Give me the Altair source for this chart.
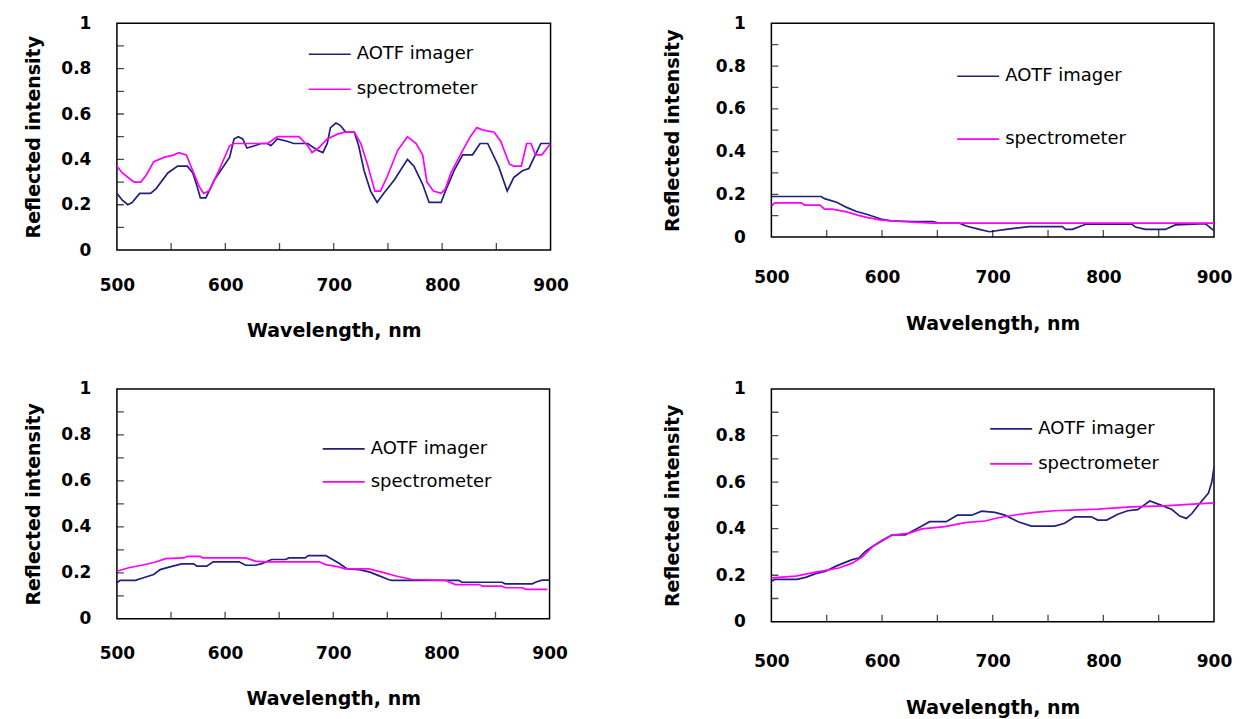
import altair as alt
import pandas as pd

NAVY = "#20207f"
MAGENTA = "#ff00ff"
SERIES = ["AOTF imager", "spectrometer"]

x_label_values = [500, 600, 700, 800, 900]
y_label_values = [0, 0.2, 0.4, 0.6, 0.8, 1]
x_minor_ticks = [550, 600, 650, 700, 750, 800, 850]
y_minor_ticks = [0.1, 0.2, 0.3, 0.4, 0.5, 0.6, 0.7, 0.8, 0.9]

# Panel 1 (top left)
p1_aotf_nm = [500, 505, 510, 514, 521, 531, 536, 547, 556, 565, 570, 574, 577, 582, 590, 604, 608, 612, 616, 620,
              627, 633, 639, 642, 648, 657, 663, 676, 685, 690, 694, 697, 702, 706, 711, 719, 723, 728, 734, 740,
              746, 756, 768, 774, 782, 788, 792, 799, 803, 811, 819, 828, 835, 842, 852, 860, 866, 874, 880, 886,
              891, 900]
p1_aotf_val = [0.25, 0.22, 0.20, 0.21, 0.25, 0.25, 0.27, 0.34, 0.37, 0.37, 0.34, 0.28, 0.23, 0.23, 0.31, 0.41, 0.49,
               0.50, 0.49, 0.45, 0.46, 0.47, 0.47, 0.46, 0.49, 0.48, 0.47, 0.47, 0.44, 0.43, 0.47, 0.54, 0.56, 0.55,
               0.52, 0.52, 0.46, 0.35, 0.26, 0.21, 0.25, 0.31, 0.40, 0.37, 0.29, 0.21, 0.21, 0.21, 0.26, 0.35, 0.42,
               0.42, 0.47, 0.47, 0.37, 0.26, 0.32, 0.35, 0.36, 0.42, 0.47, 0.47]
p1_spec_nm = [500, 505, 513, 516, 522, 527, 534, 544, 553, 557, 564, 570, 576, 580, 585, 593, 604, 608, 620, 639,
              648, 668, 676, 680, 686, 694, 703, 710, 719, 725, 731, 738, 743, 749, 759, 768, 776, 782, 786, 792,
              799, 803, 808, 819, 826, 832, 837, 848, 854, 862, 866, 873, 878, 882, 886, 892, 900]
p1_spec_val = [0.37, 0.34, 0.31, 0.30, 0.30, 0.33, 0.39, 0.41, 0.42, 0.43, 0.42, 0.35, 0.28, 0.25, 0.26, 0.34, 0.46,
               0.47, 0.47, 0.47, 0.50, 0.50, 0.46, 0.43, 0.45, 0.49, 0.51, 0.52, 0.52, 0.47, 0.38, 0.26, 0.26, 0.32,
               0.44, 0.50, 0.47, 0.42, 0.30, 0.26, 0.25, 0.27, 0.34, 0.44, 0.50, 0.54, 0.53, 0.52, 0.48, 0.38, 0.37,
               0.37, 0.47, 0.47, 0.42, 0.42, 0.47]

# Panel 2 (top right)
p2_aotf_nm = [500, 545, 548, 559, 568, 577, 586, 595, 599, 608, 628, 646, 652, 670, 676, 688, 697, 712, 733, 763,
              766, 772, 784, 826, 829, 838, 856, 865, 892, 900]
p2_aotf_val = [0.19, 0.19, 0.18, 0.163, 0.139, 0.12, 0.107, 0.092, 0.084, 0.076, 0.073, 0.073, 0.065, 0.065, 0.052,
               0.036, 0.025, 0.036, 0.049, 0.049, 0.036, 0.036, 0.06, 0.06, 0.047, 0.036, 0.036, 0.057, 0.063, 0.03]
p2_spec_nm = [500, 503, 527, 530, 544, 548, 555, 568, 578, 586, 598, 616, 646, 700, 800, 900]
p2_spec_val = [0.145, 0.16, 0.16, 0.15, 0.15, 0.131, 0.131, 0.118, 0.103, 0.092, 0.081, 0.073, 0.065, 0.065, 0.065,
               0.065]

# Panel 3 (bottom left)
p3_aotf_nm = [500, 503, 517, 526, 534, 540, 549, 560, 571, 574, 583, 589, 613, 619, 628, 634, 643, 656, 659, 674,
              677, 693, 697, 705, 713, 724, 734, 742, 751, 754, 774, 804, 816, 819, 856, 859, 884, 887, 893, 900]
p3_aotf_val = [0.157, 0.167, 0.167, 0.181, 0.193, 0.214, 0.226, 0.239, 0.239, 0.229, 0.229, 0.248, 0.248, 0.233,
               0.233, 0.24, 0.258, 0.258, 0.265, 0.265, 0.275, 0.275, 0.265, 0.243, 0.217, 0.214, 0.203, 0.188,
               0.171, 0.167, 0.167, 0.167, 0.167, 0.159, 0.159, 0.152, 0.152, 0.159, 0.168, 0.168]
p3_spec_nm = [500, 511, 523, 535, 545, 562, 565, 577, 579, 619, 628, 637, 687, 693, 705, 711, 733, 745, 758, 773,
              804, 813, 835, 838, 856, 859, 875, 878, 898]
p3_spec_val = [0.207, 0.222, 0.233, 0.246, 0.262, 0.265, 0.272, 0.272, 0.265, 0.265, 0.251, 0.248, 0.248, 0.236,
               0.226, 0.217, 0.217, 0.203, 0.186, 0.171, 0.167, 0.149, 0.149, 0.142, 0.142, 0.135, 0.135, 0.128,
               0.128]

# Panel 4 (bottom right)
p4_aotf_nm = [500, 503, 523, 531, 540, 549, 558, 565, 573, 579, 585, 591, 600, 609, 621, 628, 636, 643, 658, 668,
              681, 690, 702, 711, 723, 735, 756, 765, 774, 789, 795, 803, 813, 822, 831, 842, 852, 862, 869, 875,
              880, 887, 895, 898, 900]
p4_aotf_val = [0.174, 0.182, 0.182, 0.191, 0.207, 0.217, 0.238, 0.252, 0.267, 0.274, 0.302, 0.323, 0.349, 0.373,
               0.373, 0.391, 0.411, 0.43, 0.43, 0.458, 0.458, 0.475, 0.47, 0.458, 0.43, 0.411, 0.411, 0.423, 0.451,
               0.451, 0.437, 0.437, 0.462, 0.477, 0.482, 0.519, 0.501, 0.482, 0.454, 0.444, 0.465, 0.508, 0.553,
               0.6, 0.664]
p4_spec_nm = [500, 522, 540, 561, 573, 582, 591, 603, 609, 624, 636, 657, 675, 693, 705, 723, 738, 756, 795, 825,
              855, 900]
p4_spec_val = [0.189, 0.196, 0.213, 0.231, 0.252, 0.278, 0.321, 0.355, 0.373, 0.38, 0.399, 0.409, 0.426, 0.433,
               0.447, 0.461, 0.47, 0.477, 0.484, 0.494, 0.498, 0.511]

FONT = "DejaVu Sans"


def panel(a_nm, a_val, s_nm, s_val, w, h, lx, ly, row_pad, x_lp, x_tp, y_tp):
    df = pd.DataFrame({
        "nm": a_nm + s_nm,
        "val": a_val + s_val,
        "series": [SERIES[0]] * len(a_nm) + [SERIES[1]] * len(s_nm),
    })
    xs = alt.Scale(domain=[500, 900], nice=False, zero=False, padding=0)
    ys = alt.Scale(domain=[0, 1], nice=False, padding=0)
    x_axis = alt.Axis(values=x_label_values, title="Wavelength, nm", format="d", labelFlush=False,
                      labelPadding=x_lp, titlePadding=x_tp)
    y_axis = alt.Axis(values=y_label_values, title="Reflected intensity", format="~g", labelFlush=False,
                      labelPadding=26, titlePadding=y_tp)
    lines = alt.Chart(df).mark_line(strokeWidth=1.7, clip=True).encode(
        x=alt.X("nm:Q", scale=xs, axis=x_axis),
        y=alt.Y("val:Q", scale=ys, axis=y_axis),
        color=alt.Color("series:N", scale=alt.Scale(domain=SERIES, range=[NAVY, MAGENTA]),
                        legend=alt.Legend(title=None, orient="none", legendX=lx, legendY=ly,
                                          symbolType="stroke", symbolSize=1764, symbolStrokeWidth=1.7,
                                          labelFont=FONT, labelFontSize=18, labelColor="black",
                                          labelOffset=5, rowPadding=row_pad, padding=0)),
    )
    yt = alt.Chart(pd.DataFrame({"val": y_minor_ticks})).mark_tick(
        orient="horizontal", size=14, thickness=1.3, color="black", clip=True
    ).encode(y=alt.Y("val:Q", scale=ys, axis=y_axis), x=alt.value(0))
    xt = alt.Chart(pd.DataFrame({"nm": x_minor_ticks})).mark_tick(
        orient="vertical", size=14, thickness=1.3, color="black", clip=True
    ).encode(x=alt.X("nm:Q", scale=xs, axis=x_axis), y=alt.value(h))
    return alt.layer(lines, yt, xt).properties(width=w, height=h)


p1 = panel(p1_aotf_nm, p1_aotf_val, p1_spec_nm, p1_spec_val, 434, 227, 191, 9, 4, 27, 28, 17)
p2 = panel(p2_aotf_nm, p2_aotf_val, p2_spec_nm, p2_spec_val, 443, 214, 185, 31, 32, 32, 29, 33)
p3 = panel(p3_aotf_nm, p3_aotf_val, p3_spec_nm, p3_spec_val, 433, 230, 205, 38, 2, 27, 28, 17)
p4 = panel(p4_aotf_nm, p4_aotf_val, p4_spec_nm, p4_spec_val, 443, 233, 218, 18, 4, 32, 29, 33)

left = alt.vconcat(p1, p3, spacing=38).resolve_legend(color="independent")
right = alt.vconcat(p2, p4, spacing=45).resolve_legend(color="independent")

chart = alt.hconcat(left, right, spacing=93).resolve_legend(color="independent").properties(
    padding={"left": 16, "top": 5, "right": 5, "bottom": 5}
).configure_view(stroke="black", strokeWidth=1.5).configure_axis(
    grid=False, domain=False, ticks=False,
    labelFont=FONT, labelFontWeight="bold", labelFontSize=17, labelColor="black",
    titleFont=FONT, titleFontWeight="bold", titleFontSize=19, titleColor="black",
)

chart.save("out.html", embed_options={"renderer": "svg", "actions": False})
